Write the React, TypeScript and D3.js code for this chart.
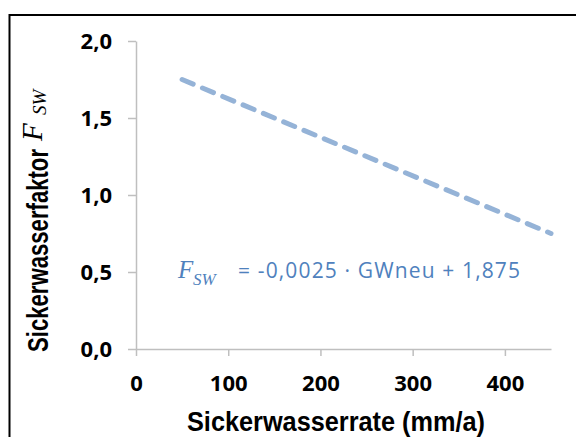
import React, { useEffect, useRef } from 'react';
import * as d3 from 'd3';

// values
const xTicks = [0, 100, 200, 300, 400];
const yTicks = [0, 0.5, 1.0, 1.5, 2.0];
const rateValues = [50, 450];
const factorValues = [1.75, 0.75];
const xTitle = 'Sickerwasserrate (mm/a)';
const yTitle = 'Sickerwasserfaktor';
const formulaText = '= -0,0025 · GWneu + 1,875';

function App() {
  const ref = useRef<SVGSVGElement | null>(null);

  useEffect(() => {
    if (!ref.current) return;
    const width = 576;
    const height = 437;
    const margin = { top: 41, right: 25, bottom: 88, left: 136 };

    const root = d3.select(ref.current);
    root.selectAll('*').remove();
    root.attr('width', width).attr('height', height);

    root.append('rect')
      .attr('width', width).attr('height', height).attr('fill', '#fff');

    // outer frame (only top and left edge visible)
    root.append('path')
      .attr('d', 'M9.5,437V15H576')
      .attr('fill', 'none')
      .attr('stroke', '#000')
      .attr('stroke-width', 2);

    const x = d3.scaleLinear().domain([0, 450]).range([margin.left, width - margin.right]);
    const y = d3.scaleLinear().domain([0, 2]).range([height - margin.bottom, margin.top]);

    const tickFont = "'Open Sans', sans-serif";
    const titleFont = "'Liberation Sans', Arial, sans-serif";
    const mathFont = "'Liberation Serif', serif";

    // Y axis
    const yAxis = root.append('g')
      .attr('transform', `translate(${margin.left},0)`)
      .call(d3.axisLeft(y).tickValues(yTicks).tickSize(8).tickSizeOuter(0).tickPadding(16)
        .tickFormat((d) => d3.format('.1f')(d as number).replace('.', ',')));
    yAxis.select('.domain').attr('stroke', '#bfbfbf').attr('stroke-width', 1.5);
    yAxis.selectAll('.tick line').attr('stroke', '#bfbfbf').attr('stroke-width', 1.5);
    yAxis.selectAll('text')
      .attr('fill', '#000')
      .style('font-family', tickFont)
      .style('font-weight', 'bold')
      .style('font-size', '22px');

    // X axis
    const xAxis = root.append('g')
      .attr('transform', `translate(0,${y(0)})`)
      .call(d3.axisBottom(x).tickValues(xTicks).tickSize(7).tickSizeOuter(0).tickPadding(19)
        .tickFormat((d) => String(d)));
    xAxis.select('.domain').attr('stroke', '#bfbfbf').attr('stroke-width', 1.5);
    xAxis.selectAll('.tick line').attr('stroke', '#bfbfbf').attr('stroke-width', 1.5);
    xAxis.selectAll('text')
      .attr('fill', '#000')
      .style('font-family', tickFont)
      .style('font-weight', 'bold')
      .style('font-size', '22px');

    // dashed trend line
    const pts = rateValues.map((r, i) => [r, factorValues[i]] as [number, number]);
    const line = d3.line<[number, number]>().x((d) => x(d[0])).y((d) => y(d[1]));
    root.append('path')
      .attr('d', line(pts))
      .attr('fill', 'none')
      .attr('stroke', '#95b3d7')
      .attr('stroke-width', 5)
      .attr('stroke-linecap', 'round')
      .attr('stroke-dasharray', '12,10');

    // formula
    root.append('text')
      .attr('x', 178).attr('y', 278)
      .attr('fill', '#4f81bd')
      .style('font-family', mathFont)
      .style('font-style', 'italic')
      .style('font-size', '25px')
      .text('F');
    root.append('text')
      .attr('x', 193).attr('y', 285)
      .attr('fill', '#4f81bd')
      .style('font-family', mathFont)
      .style('font-style', 'italic')
      .style('font-size', '17px')
      .text('SW');
    root.append('text')
      .attr('x', 238).attr('y', 278)
      .attr('fill', '#4f81bd')
      .attr('textLength', 282)
      .attr('lengthAdjust', 'spacing')
      .style('font-family', tickFont)
      .style('font-size', '21px')
      .text(formulaText);

    // x title
    root.append('text')
      .attr('x', 187)
      .attr('y', 431)
      .attr('textLength', 298)
      .attr('lengthAdjust', 'spacingAndGlyphs')
      .attr('fill', '#000')
      .style('font-family', titleFont)
      .style('font-weight', 'bold')
      .style('font-size', '27px')
      .text(xTitle);

    // y title
    root.append('text')
      .attr('transform', 'translate(48,352) rotate(-90)')
      .attr('textLength', 203)
      .attr('lengthAdjust', 'spacingAndGlyphs')
      .attr('fill', '#000')
      .style('font-family', titleFont)
      .style('font-weight', 'bold')
      .style('font-size', '29px')
      .text(yTitle);
    root.append('text')
      .attr('transform', 'translate(42,141) rotate(-90)')
      .attr('fill', '#000')
      .style('font-family', mathFont)
      .style('font-style', 'italic')
      .style('font-size', '29px')
      .text('F');
    root.append('text')
      .attr('transform', 'translate(46,115) rotate(-90)')
      .attr('fill', '#000')
      .style('font-family', mathFont)
      .style('font-style', 'italic')
      .style('font-size', '19px')
      .text('SW');
  }, []);

  return <svg ref={ref} style={{ position: 'absolute', left: 0, top: 0 }} />;
}

export default App;
